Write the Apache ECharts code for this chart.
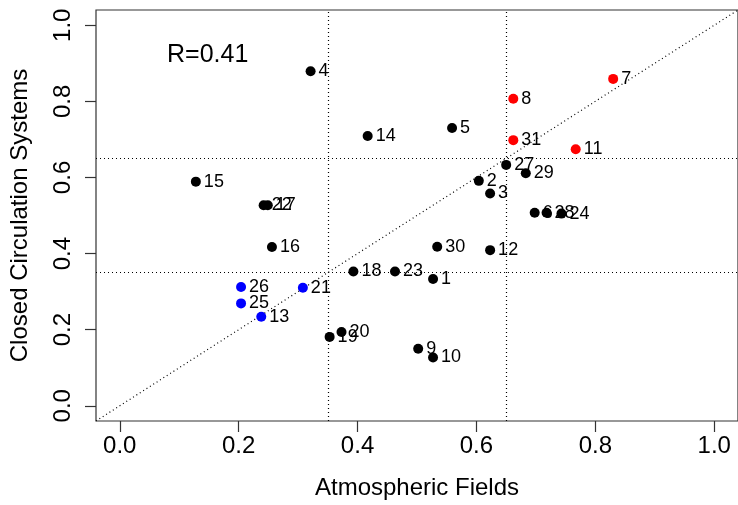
<!DOCTYPE html>
<html>
<head>
<meta charset="utf-8">
<script src="https://cdn.jsdelivr.net/npm/echarts@6/dist/echarts.min.js"></script>
<style>html,body{margin:0;padding:0;background:#fff}#c{width:738px;height:505px}</style>
</head>
<body>
<div id="c"></div>
<script>
// Case numbers, atmospheric-field score (x), closed-circulation score (y), colour group
const ids = ['1','2','3','4','5','6','7','8','9','10','11','12','13','14','15','16','17','18','19','20','21','22','23','24','25','26','27','28','29','30','31'];
const xs  = [0.527,0.604,0.623,0.321,0.559,0.698,0.830,0.662,0.502,0.527,0.767,0.623,0.238,0.417,0.128,0.256,0.249,0.393,0.353,0.373,0.308,0.242,0.463,0.743,0.204,0.204,0.650,0.718,0.683,0.534,0.662];
const ys  = [0.333,0.591,0.558,0.879,0.730,0.507,0.859,0.807,0.150,0.127,0.674,0.409,0.234,0.709,0.589,0.417,0.527,0.353,0.181,0.194,0.310,0.527,0.353,0.505,0.269,0.312,0.633,0.507,0.611,0.418,0.698];
const groups = ['k','k','k','k','k','k','r','r','k','k','r','k','b','k','k','k','k','k','k','k','b','k','k','k','b','b','k','k','k','k','r'];
const tickValues = [0, 0.2, 0.4, 0.6, 0.8, 1.0];
const cutX = [0.35, 0.65];
const cutY = [0.35, 0.65];
const diagonal = [[-0.04, -0.04], [1.04, 1.04]];
const corrText = 'R=0.41';

const colors = {k: '#000000', r: '#FF0000', b: '#0000FF'};
const FONT = '"Liberation Sans", Arial, Helvetica, sans-serif';

const groupSeries = ['k', 'r', 'b'].map(g => ({
  type: 'scatter',
  symbol: 'circle',
  symbolSize: 10,
  itemStyle: {color: colors[g], opacity: 1},
  label: {
    show: true, position: 'right', distance: 3,
    formatter: p => p.name, color: '#000', fontSize: 18, fontFamily: FONT
  },
  data: ids.map((id, i) => ({name: id, value: [xs[i], ys[i]], g: groups[i]}))
           .filter(d => d.g === g).map(d => ({name: d.name, value: d.value})),
  z: 3
}));

const refStyle = {type: [1, 3], color: '#000', width: 1.2};

const option = {
  animation: false,
  backgroundColor: '#fff',
  textStyle: {fontFamily: FONT},
  grid: {left: 96, top: 10, width: 647, height: 411, show: true, borderColor: '#333', borderWidth: 1.2, backgroundColor: 'transparent'},
  xAxis: {
    type: 'value', min: -0.04, max: 1.04,
    name: 'Atmospheric Fields', nameLocation: 'middle', nameGap: 55,
    nameTextStyle: {fontSize: 24, color: '#000', fontFamily: FONT},
    axisLine: {show: false, onZero: false},
    splitLine: {show: false},
    axisTick: {show: true, inside: false, customValues: tickValues, length: 11, lineStyle: {color: '#333', width: 1.2}},
    axisLabel: {customValues: tickValues, formatter: v => v.toFixed(1), fontSize: 24, color: '#000', margin: 13, fontFamily: FONT}
  },
  yAxis: {
    type: 'value', min: -0.04, max: 1.04,
    name: 'Closed Circulation Systems', nameLocation: 'middle', nameGap: 64,
    nameTextStyle: {fontSize: 24, color: '#000', fontFamily: FONT},
    axisLine: {show: false, onZero: false},
    splitLine: {show: false},
    axisTick: {show: true, inside: false, customValues: tickValues, length: 11, lineStyle: {color: '#333', width: 1.2}},
    axisLabel: {customValues: tickValues, formatter: v => v.toFixed(1), fontSize: 24, color: '#000', margin: 21, rotate: 90, fontFamily: FONT}
  },
  series: [
    {
      type: 'line', data: diagonal, symbol: 'none', silent: true,
      lineStyle: refStyle, z: 1,
      markLine: {
        silent: true, symbol: 'none', label: {show: false},
        lineStyle: refStyle,
        data: cutX.map(v => ({xAxis: v})).concat(cutY.map(v => ({yAxis: v})))
      }
    }
  ].concat(groupSeries),
  graphic: [{
    type: 'text', left: 167, top: 43,
    style: {text: corrText, fontSize: 25, fill: '#000', fontFamily: FONT}
  }]
};

const chart = echarts.init(document.getElementById('c'), null, {renderer: 'canvas'});
chart.setOption(option);
</script>
</body>
</html>
